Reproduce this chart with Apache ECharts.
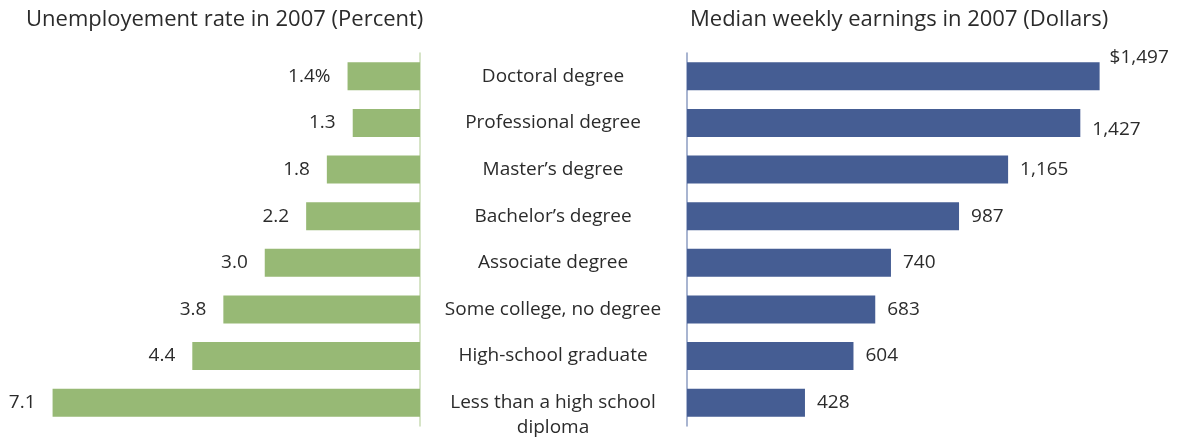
<!DOCTYPE html>
<html>
<head>
<meta charset="utf-8">
<script src="https://cdn.jsdelivr.net/npm/echarts@6/dist/echarts.min.js"></script>
<style>
  html, body { margin: 0; padding: 0; background: #fff; }
  #chart { width: 1184px; height: 438px; }
</style>
</head>
<body>
<div id="chart"></div>
<script>
var categories = ['Doctoral degree', 'Professional degree', "Master\u2019s degree", "Bachelor\u2019s degree",
  'Associate degree', 'Some college, no degree', 'High-school graduate', 'Less than a high school\ndiploma'];
var unemployment = [1.4, 1.3, 1.8, 2.2, 3.0, 3.8, 4.4, 7.1]; // percent
var earnings = [1497, 1427, 1165, 987, 740, 683, 604, 428]; // dollars per week

var FONT = '"Open Sans", sans-serif';
var TEXT = '#2b2b2b';

var chart = echarts.init(document.getElementById('chart'), null, { renderer: 'canvas' });

function money(v, i) {
  var s = String(v).replace(/\B(?=(\d{3})+(?!\d))/g, ',');
  return i === 0 ? '$' + s : s;
}

var option = {
  backgroundColor: '#fff',
  animation: false,
  title: [
    { text: 'Unemployement rate in 2007 (Percent)', left: 21, top: 4,
      textStyle: { fontFamily: FONT, fontSize: 22, fontWeight: 'normal', color: TEXT } },
    { text: 'Median weekly earnings in 2007 (Dollars)', left: 685, top: 4,
      textStyle: { fontFamily: FONT, fontSize: 22, fontWeight: 'normal', color: TEXT } }
  ],
  grid: [
    { left: 6, right: 764, top: 53, height: 373 },
    { left: 687, right: 56, top: 53, height: 373 }
  ],
  xAxis: [
    { gridIndex: 0, type: 'value', min: 0, max: 8, inverse: true, show: false },
    { gridIndex: 1, type: 'value', min: 0, max: 1600, show: false }
  ],
  yAxis: [
    { gridIndex: 0, type: 'category', data: categories, inverse: true, position: 'right',
      axisLine: { show: true, lineStyle: { color: '#c8dbb4', width: 1.5 } },
      axisTick: { show: false }, axisLabel: { show: false } },
    { gridIndex: 1, type: 'category', data: categories, inverse: true, position: 'left',
      axisLine: { show: true, lineStyle: { color: '#8d9cc2', width: 1.5 } },
      axisTick: { show: false },
      axisLabel: { interval: 0, hideOverlap: false, align: 'center', margin: 134,
        fontFamily: FONT, fontSize: 19, color: TEXT,
        formatter: function (v) {
          return v.indexOf('\n') >= 0 ? '{two|' + v + '}' : v;
        },
        rich: { two: { fontFamily: FONT, fontSize: 19, color: TEXT, lineHeight: 25, padding: [25, 0, 0, 0] } } }
    }
  ],
  series: [
    {
      type: 'bar', xAxisIndex: 0, yAxisIndex: 0, data: unemployment, barWidth: 28,
      itemStyle: { color: '#97b975' },
      label: { show: true, position: 'left', distance: 17, fontFamily: FONT, fontSize: 19, color: TEXT,
        formatter: function (p) { return p.value.toFixed(1) + (p.dataIndex === 0 ? '%' : ''); } }
    },
    {
      type: 'bar', xAxisIndex: 1, yAxisIndex: 1, barWidth: 28,
      data: earnings.map(function (v, i) {
        var d = { value: v };
        if (i === 0) d.label = { offset: [-2, -19] };
        if (i === 1) d.label = { offset: [0, 7] };
        return d;
      }),
      itemStyle: { color: '#455d93' },
      label: { show: true, position: 'right', distance: 12, fontFamily: FONT, fontSize: 19, color: TEXT,
        formatter: function (p) { return money(p.value, p.dataIndex); } }
    }
  ]
};

chart.setOption(option);
window.addEventListener('resize', function () { chart.resize(); });
</script>
</body>
</html>
